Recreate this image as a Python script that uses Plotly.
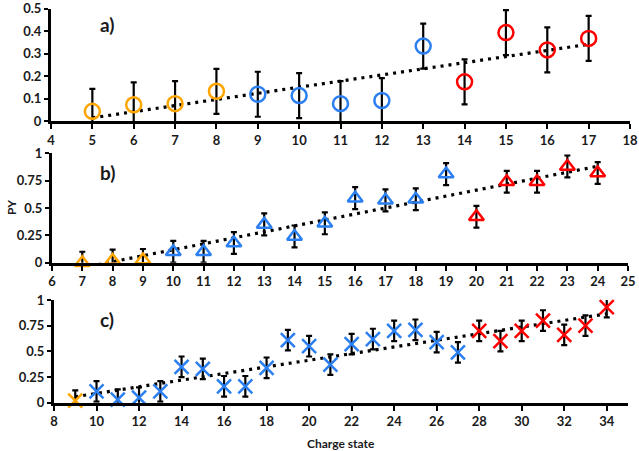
import numpy as np
import plotly.graph_objects as go

# ---------------- data ----------------
# Panel a
a_x = [5, 6, 7, 8, 9, 10, 11, 12, 13, 14, 15, 16, 17]
a_y = [0.043, 0.072, 0.077, 0.132, 0.119, 0.113, 0.077, 0.091, 0.333, 0.174, 0.393, 0.316, 0.367]
a_err = [0.1] * 13
a_group = ["o", "o", "o", "o", "b", "b", "b", "b", "b", "r", "r", "r", "r"]

# Panel b
b_x = [7, 8, 9, 10, 11, 12, 13, 14, 15, 16, 17, 18, 19, 20, 21, 22, 23, 24]
b_y = [0.0, 0.02, 0.025, 0.1, 0.1, 0.18, 0.35, 0.24, 0.36, 0.59, 0.57, 0.58, 0.81, 0.42, 0.74, 0.74, 0.88, 0.82]
b_err = [0.1] * 18
b_group = ["o", "o", "o"] + ["b"] * 10 + ["r"] * 5

# Panel c
c_x = list(range(9, 35))
c_y = [0.02, 0.11, 0.03, 0.05, 0.11, 0.35, 0.33, 0.16, 0.16, 0.34, 0.61, 0.55, 0.37,
       0.57, 0.62, 0.70, 0.71, 0.59, 0.49, 0.70, 0.60, 0.70, 0.80, 0.66, 0.75, 0.93]
c_err = [0.1] * 26
c_group = ["o"] + ["b"] * 18 + ["r"] * 7

colors = {"o": "#FFA500", "b": "#2B7FF0", "r": "#FF0000"}

W, H = 639, 451
panels = [
    dict(x=a_x, y=a_y, e=a_err, g=a_group, sym="circle-open", size=15,
         xr=[4, 18], xdt=1, yr=[0, 0.5], ytv=[0, 0.1, 0.2, 0.3, 0.4, 0.5],
         ytt=["0", "0.1", "0.2", "0.3", "0.4", "0.5"],
         px=(51, 630), py=(8.5, 121), label="a)"),
    dict(x=b_x, y=b_y, e=b_err, g=b_group, sym="triangle-up-open", size=13,
         xr=[6, 25], xdt=1, yr=[0, 1], ytv=[0, 0.25, 0.5, 0.75, 1],
         ytt=["0", "0.25", "0.5", "0.75", "1"],
         px=(52, 628), py=(153.3, 262.7), label="b)"),
    dict(x=c_x, y=c_y, e=c_err, g=c_group, sym="x-thin-open", size=14,
         xr=[8, 35], xdt=2, yr=[0, 1], ytv=[0, 0.25, 0.5, 0.75, 1],
         ytt=["0", "0.25", "0.5", "0.75", "1"],
         px=(54, 628), py=(300, 402.7), label="c)"),
]

fig = go.Figure()
layout = dict(width=W, height=H, margin=dict(l=0, r=0, t=0, b=0, pad=0, autoexpand=False),
              plot_bgcolor="white", paper_bgcolor="white", showlegend=False)
tickfont = dict(family="Lato", size=13, color="#1a1a1a", weight="bold")
annotations = []

for i, p in enumerate(panels):
    n = "" if i == 0 else str(i + 1)
    xa, ya = "x" + n, "y" + n
    # error bars (clipped)
    fig.add_trace(go.Scatter(x=p["x"], y=p["y"], mode="markers", xaxis=xa, yaxis=ya,
                             marker=dict(opacity=0, size=1),
                             error_y=dict(type="data", array=p["e"], color="black",
                                          thickness=2.2, width=3), hoverinfo="skip"))
    # trendline
    k, b0 = np.polyfit(p["x"], p["y"], 1)
    tx = [min(p["x"]), max(p["x"])]
    fig.add_trace(go.Scatter(x=tx, y=[k * v + b0 for v in tx], mode="lines", xaxis=xa, yaxis=ya,
                             line=dict(color="black", width=3.2, dash="3px,5px")))
    # markers by colour group
    for g in ["o", "b", "r"]:
        xs = [xv for xv, gv in zip(p["x"], p["g"]) if gv == g]
        ys = [yv for yv, gv in zip(p["y"], p["g"]) if gv == g]
        fig.add_trace(go.Scatter(x=xs, y=ys, mode="markers", xaxis=xa, yaxis=ya, cliponaxis=False,
                                 marker=dict(symbol=p["sym"], size=p["size"], color=colors[g],
                                             line=dict(color=colors[g], width=2.5))))
    x0, x1 = p["px"]
    ytop, ybot = p["py"]
    layout["xaxis" + n] = dict(domain=[x0 / W, x1 / W], range=p["xr"], dtick=p["xdt"], tick0=0,
                               anchor=ya, showline=True, linecolor="black", linewidth=3,
                               ticks="outside", ticklen=5, tickwidth=2, tickcolor="black",
                               showgrid=False, zeroline=False, tickfont=tickfont, fixedrange=True,
                               automargin=False, ticklabeloverflow="allow")
    layout["yaxis" + n] = dict(domain=[(H - ybot) / H, (H - ytop) / H], range=p["yr"],
                               tickvals=p["ytv"], ticktext=p["ytt"],
                               anchor=xa, showline=True, linecolor="black", linewidth=3,
                               ticks="outside", ticklen=4, tickwidth=2, tickcolor="black",
                               showgrid=False, zeroline=False, tickfont=tickfont, fixedrange=True,
                               automargin=False, ticklabeloverflow="allow")
    annotations.append(dict(text=p["label"], x=98 / W, y=(H - (p["py"][0] + 19 - (2.5 if i == 0 else 0))) / H,
                            xref="paper", yref="paper", xanchor="left", yanchor="middle",
                            showarrow=False,
                            font=dict(family="Lato", size=19, color="#1a1a1a", weight="bold")))

annotations.append(dict(text="PY", x=11 / W, y=(H - 208) / H, xref="paper", yref="paper",
                        textangle=-90, showarrow=False, xanchor="center", yanchor="middle",
                        font=dict(family="Lato", size=12, color="#1a1a1a", weight="bold")))
annotations.append(dict(text="Charge state", x=341 / W, y=(H - 443) / H, xref="paper", yref="paper",
                        showarrow=False, xanchor="center", yanchor="middle",
                        font=dict(family="Lato", size=12, color="#1a1a1a", weight="bold")))
layout["annotations"] = annotations
fig.update_layout(**layout)
fig.write_html("out.html", config={"displayModeBar": False},
               post_script="document.body.style.margin='0px';")
